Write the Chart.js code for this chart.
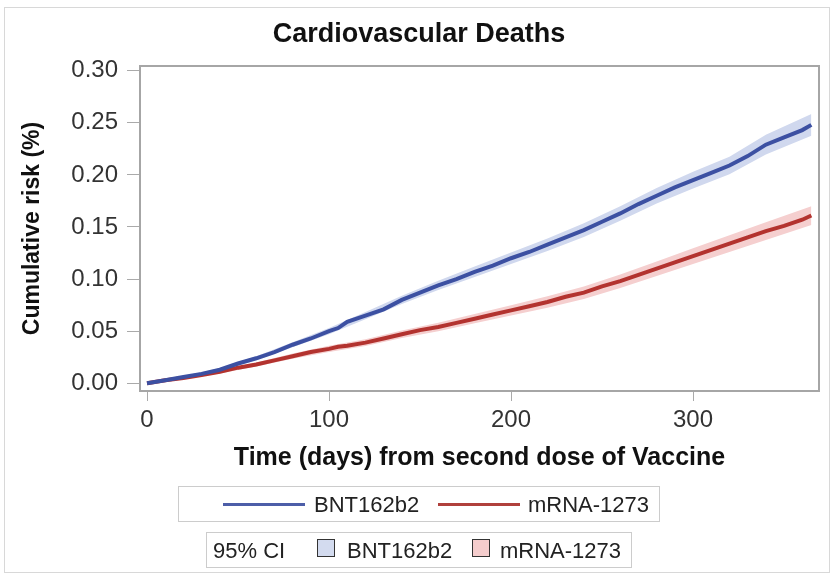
<!DOCTYPE html>
<html>
<head>
<meta charset="utf-8">
<script src="https://cdn.jsdelivr.net/npm/chart.js@4.4.0/dist/chart.umd.min.js"></script>
<style>
  body { margin: 0; background: #fff; }
  #wrap { position: relative; width: 835px; height: 573px; font-family: "Liberation Sans", Arial, sans-serif; }
  #frame { position: absolute; left: 4px; top: 7px; width: 824px; height: 564px; border: 1px solid #d8d8d8; }
  #title { position: absolute; left: 0; width: 838px; top: 18px; text-align: center; font-weight: bold; font-size: 27px; color: #111; }
  .legend { position: absolute; border: 1px solid #ccc; background: #fff; font-size: 22px; color: #222; }
  .legend span { position: absolute; top: 5px; white-space: nowrap; }
  .swline { position: absolute; height: 3px; top: 16px; }
  .swbox { position: absolute; width: 16px; height: 16px; border: 1.5px solid #333; top: 6px; }
</style>
</head>
<body>
<div id="wrap">
  <div id="frame"></div>
  <canvas id="c" width="835" height="573"></canvas>
  <div id="title">Cardiovascular Deaths</div>
  <div class="legend" style="left:178px; top:486px; width:480px; height:34px;">
    <div class="swline" style="left:44px; width:82px; background:#4d5ea8;"></div>
    <span style="left:135px;">BNT162b2</span>
    <div class="swline" style="left:259px; width:82px; background:#b0403c;"></div>
    <span style="left:349px;">mRNA-1273</span>
  </div>
  <div class="legend" style="left:206px; top:532px; width:424px; height:34px;">
    <span style="left:6px;">95% CI</span>
    <div class="swbox" style="left:110px; background:#d3dbef;"></div>
    <span style="left:140px;">BNT162b2</span>
    <div class="swbox" style="left:265px; background:#f5cdcd;"></div>
    <span style="left:293px;">mRNA-1273</span>
  </div>
</div>
<script>
// valores
const days = [0, 10, 20, 30, 40, 50, 60, 70, 80, 90, 100, 105, 110, 120, 130, 140, 150, 160, 170, 180, 190, 200,
              210, 220, 230, 240, 250, 260, 270, 280, 290, 300, 310, 320, 330, 340, 350, 360, 365];
const bntRisk = [0, 0.003, 0.006, 0.009, 0.013, 0.019, 0.024, 0.030, 0.037, 0.043, 0.050, 0.053, 0.059, 0.065, 0.071,
                 0.080, 0.087, 0.094, 0.100, 0.107, 0.113, 0.120, 0.126, 0.133, 0.140, 0.147, 0.155, 0.163, 0.172,
                 0.180, 0.188, 0.195, 0.202, 0.209, 0.218, 0.229, 0.236, 0.243, 0.248];
const mrnaRisk = [0, 0.003, 0.005, 0.008, 0.011, 0.015, 0.018, 0.022, 0.026, 0.030, 0.033, 0.035, 0.036, 0.039, 0.043,
                  0.047, 0.051, 0.054, 0.058, 0.062, 0.066, 0.070, 0.074, 0.078, 0.083, 0.087, 0.093, 0.098, 0.104,
                  0.110, 0.116, 0.122, 0.128, 0.134, 0.140, 0.146, 0.151, 0.157, 0.161];

// intervalo de confiança 95%
const ciDays = [0, 20, 40, 60, 80, 100, 120, 140, 160, 180, 200, 220, 240, 260, 280, 300, 320, 340, 365];
const bntLo = [0, 0.005, 0.0115, 0.022, 0.0345, 0.047, 0.0615, 0.076, 0.0895, 0.102, 0.1145, 0.127, 0.1405, 0.156, 0.1725, 0.187, 0.2005, 0.2195, 0.2375];
const bntHi = [0, 0.007, 0.0145, 0.026, 0.0395, 0.053, 0.0685, 0.084, 0.0985, 0.112, 0.1255, 0.139, 0.1535, 0.170, 0.1875, 0.203, 0.2175, 0.2385, 0.2585];
const mrnaLo = [0, 0.004, 0.0095, 0.016, 0.0235, 0.030, 0.0357, 0.0434, 0.050, 0.0575, 0.065, 0.0725, 0.081, 0.0915, 0.103, 0.1145, 0.126, 0.1375, 0.152];
const mrnaHi = [0, 0.006, 0.0125, 0.020, 0.0285, 0.036, 0.0423, 0.0506, 0.058, 0.0665, 0.075, 0.0835, 0.093, 0.1045, 0.117, 0.1295, 0.142, 0.1545, 0.170];

const xTicks = [0, 100, 200, 300];
const yTicks = [0, 0.05, 0.10, 0.15, 0.20, 0.25, 0.30];

const pts = (xs, ys) => xs.map((x, i) => ({ x: x, y: ys[i] }));

// moldura em volta da área do gráfico
const framePlugin = {
    id: 'frame',
    afterDraw(chart) {
        const a = chart.chartArea, ctx = chart.ctx;
        ctx.save();
        ctx.strokeStyle = '#a6a6a6';
        ctx.lineWidth = 2;
        ctx.strokeRect(a.left, a.top, a.right - a.left, a.bottom - a.top);
        ctx.restore();
    }
};

const band = (data, color) => ({
    data: data, borderWidth: 0, pointRadius: 0, backgroundColor: color, order: 2
});

new Chart(document.getElementById('c'), {
    type: 'line',
    data: {
        datasets: [
            Object.assign(band(pts(ciDays, bntLo), 'transparent'), { fill: false }),
            Object.assign(band(pts(ciDays, bntHi), '#d0d8ee'), { fill: '-1' }),
            Object.assign(band(pts(ciDays, mrnaLo), 'transparent'), { fill: false }),
            Object.assign(band(pts(ciDays, mrnaHi), '#f5cfcf'), { fill: '-1' }),
            { label: 'BNT162b2', data: pts(days, bntRisk), borderColor: '#3c50a2', borderWidth: 4, pointRadius: 0, fill: false, order: 0 },
            { label: 'mRNA-1273', data: pts(days, mrnaRisk), borderColor: '#b3332f', borderWidth: 4, pointRadius: 0, fill: false, order: 1 }
        ]
    },
    options: {
        responsive: false,
        animation: false,
        devicePixelRatio: 1,
        layout: { padding: { left: 0, top: 66, right: 16, bottom: 100 } },
        plugins: { legend: { display: false }, tooltip: { enabled: false } },
        scales: {
            x: {
                type: 'linear', min: -3.85, max: 369.2,
                afterBuildTicks: s => { s.ticks = xTicks.map(v => ({ value: v })); },
                afterFit: s => { s.height = 82; },
                grid: { drawOnChartArea: false, drawTicks: true, tickLength: 10, color: '#aaa' },
                border: { display: false },
                ticks: { color: '#333', padding: 5, font: { family: 'Liberation Sans', size: 24 }, maxRotation: 0 },
                title: { display: true, text: 'Time (days) from second dose of Vaccine', color: '#111',
                         font: { family: 'Liberation Sans', size: 25, weight: 'bold' }, padding: { top: 2, bottom: 0 } }
            },
            y: {
                min: -0.0074, max: 0.3045,
                afterBuildTicks: s => { s.ticks = yTicks.map(v => ({ value: v })); },
                afterFit: s => { s.width = 140; },
                grid: { drawOnChartArea: false, drawTicks: true, tickLength: 13, color: '#aaa' },
                border: { display: false },
                ticks: { color: '#333', padding: 9, font: { family: 'Liberation Sans', size: 24 },
                         callback: v => v.toFixed(2) },
                title: { display: true, text: 'Cumulative risk (%)', color: '#111',
                         font: { family: 'Liberation Sans', size: 23, weight: 'bold' }, padding: { top: 19, bottom: 0 } }
            }
        }
    },
    plugins: [framePlugin]
});
</script>
</body>
</html>
